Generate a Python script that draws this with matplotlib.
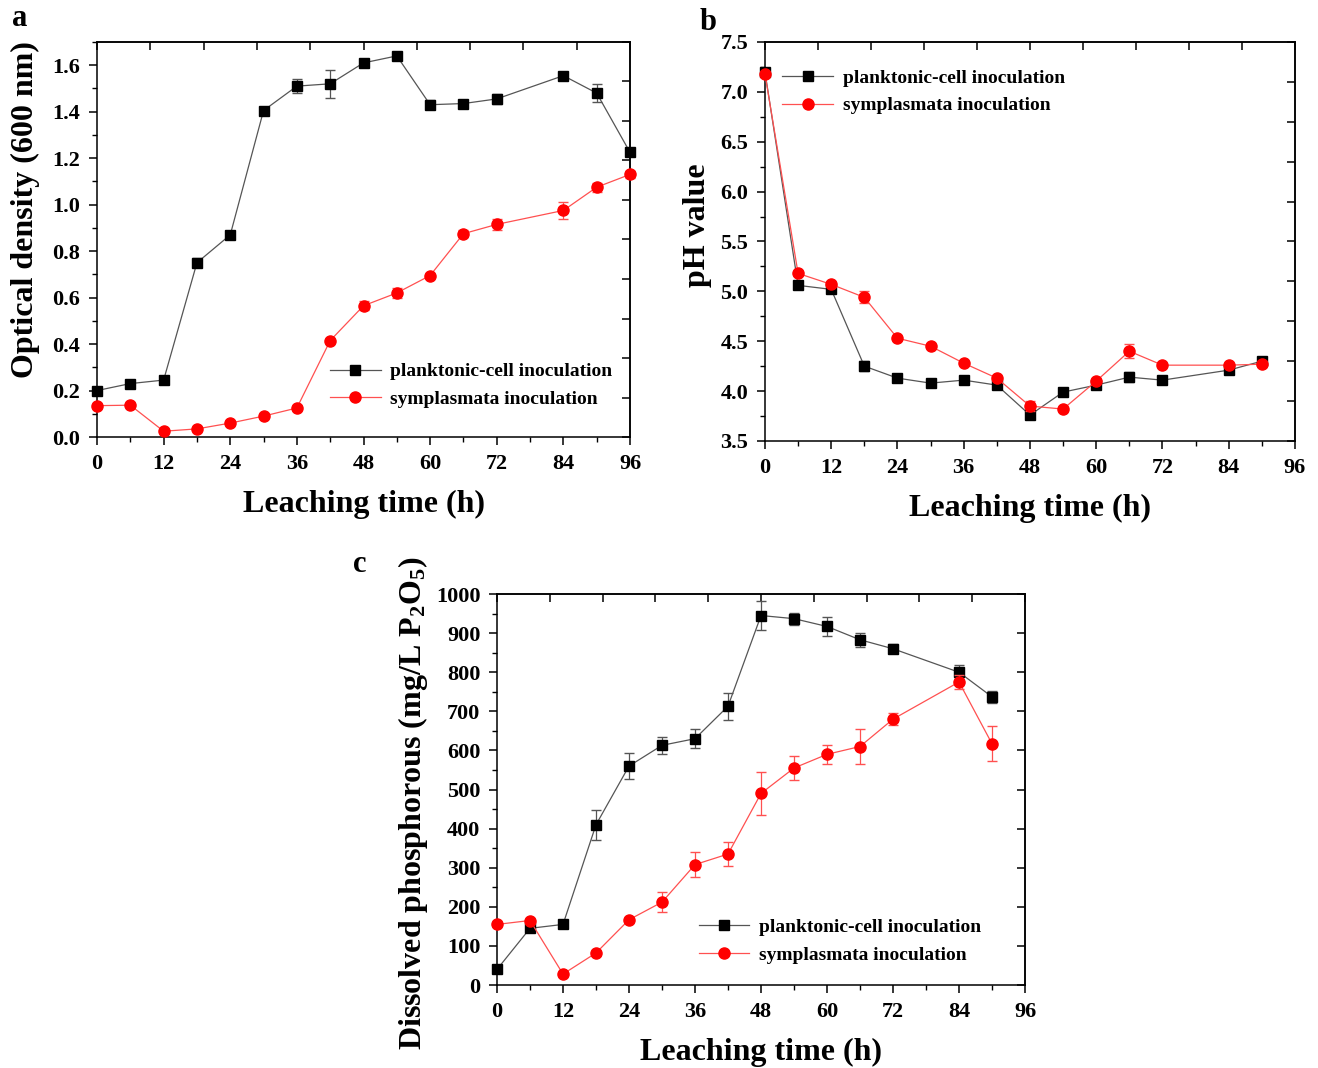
import numpy as np
import matplotlib
matplotlib.use("Agg")
import matplotlib.pyplot as plt
from matplotlib.ticker import MultipleLocator
from matplotlib.lines import Line2D

plt.rcParams['font.family'] = ['Liberation Serif', 'DejaVu Serif']
plt.rcParams['font.weight'] = 'bold'
plt.rcParams['mathtext.fontset'] = 'custom'
plt.rcParams['mathtext.rm'] = 'Liberation Serif:bold'
plt.rcParams['mathtext.bf'] = 'Liberation Serif:bold'
plt.rcParams['mathtext.it'] = 'Liberation Serif:bold'
plt.rcParams['axes.linewidth'] = 1.1

# ---- data ----
# a: optical density
t_a = [0, 6, 12, 18, 24, 30, 36, 42, 48, 54, 60, 66, 72, 84, 90, 96]
od_plank = [0.20, 0.23, 0.245, 0.75, 0.87, 1.405, 1.51, 1.52, 1.61, 1.64,
            1.43, 1.435, 1.455, 1.555, 1.48, 1.225]
od_plank_err = [0.005, 0.005, 0.005, 0.02, 0.005, 0.005, 0.03, 0.06, 0.005, 0.01,
                0.02, 0.005, 0.02, 0.005, 0.04, 0.01]
od_sym = [0.135, 0.137, 0.025, 0.035, 0.06, 0.09, 0.125, 0.415, 0.565, 0.62,
          0.695, 0.875, 0.915, 0.975, 1.075, 1.13]
od_sym_err = [0.005, 0.005, 0.005, 0.005, 0.005, 0.005, 0.005, 0.005, 0.02, 0.02,
              0.005, 0.015, 0.025, 0.035, 0.02, 0.015]

# b: pH
t_b = [0, 6, 12, 18, 24, 30, 36, 42, 48, 54, 60, 66, 72, 84, 90]
ph_plank = [7.20, 5.06, 5.02, 4.25, 4.13, 4.08, 4.11, 4.06, 3.76, 3.99,
            4.06, 4.14, 4.11, 4.21, 4.30]
ph_plank_err = [0.02, 0.02, 0.02, 0.05, 0.01, 0.01, 0.01, 0.01, 0.04, 0.01,
                0.01, 0.05, 0.01, 0.02, 0.02]
ph_sym = [7.18, 5.18, 5.07, 4.94, 4.53, 4.45, 4.28, 4.13, 3.85, 3.82,
          4.10, 4.40, 4.26, 4.26, 4.27]
ph_sym_err = [0.02, 0.02, 0.02, 0.06, 0.01, 0.01, 0.01, 0.01, 0.05, 0.01,
              0.02, 0.07, 0.01, 0.01, 0.03]

# c: dissolved phosphorous
t_c = [0, 6, 12, 18, 24, 30, 36, 42, 48, 54, 60, 66, 72, 84, 90]
p_plank = [40, 145, 155, 410, 560, 613, 630, 713, 945, 937, 917, 883, 860, 800, 737]
p_plank_err = [5, 5, 5, 38, 33, 22, 25, 35, 37, 15, 25, 18, 12, 18, 15]
p_sym = [155, 165, 28, 82, 167, 212, 308, 335, 490, 555, 590, 610, 680, 775, 617]
p_sym_err = [5, 5, 5, 5, 5, 25, 32, 30, 55, 30, 25, 45, 15, 18, 45]

labels = ["planktonic-cell inoculation", "symplasmata inoculation"]

fig = plt.figure(figsize=(13.18, 10.68), dpi=100)

black_style = dict(color='#555555', lw=0.9, marker='s', ms=7.5, mfc='k', mec='k')
red_style = dict(color='#ff5050', lw=0.9, marker='o', ms=8, mfc='red', mec='red')


def panel(rect, t, y1, e1, y2, e2, ylim, ymaj, ymin, ylabel, ylsize, ylpos, letter,
          letter_xy, leg_loc, leg_anchor):
    ax = fig.add_axes(rect)
    for y, e, st, z in [(y1, e1, black_style, 3), (y2, e2, red_style, 4)]:
        _, caps, bars = ax.errorbar(t, y, yerr=e, fmt='none', ecolor=st['color'],
                                    elinewidth=0.9, capsize=3.5, zorder=z)
        for c in list(caps) + list(bars):
            c.set_clip_on(False)
        ax.plot(t, y, zorder=z, clip_on=False, **st)
    ax.set_xlim(0, 96)
    ax.set_ylim(*ylim)
    ax.xaxis.set_major_locator(MultipleLocator(12))
    ax.xaxis.set_minor_locator(MultipleLocator(6))
    ax.yaxis.set_major_locator(MultipleLocator(ymaj))
    ax.yaxis.set_minor_locator(MultipleLocator(ymin))
    ax.tick_params(which='major', direction='out', length=6, width=1.1, labelsize=16, pad=6)
    ax.tick_params(which='minor', direction='out', length=3.5, width=1.0)
    for lb in ax.get_xticklabels() + ax.get_yticklabels():
        lb.set_fontweight('bold')
    ax.set_xlabel("Leaching time (h)", fontsize=23, fontweight='bold', labelpad=12)
    ax.set_ylabel(ylabel, fontsize=ylsize, fontweight='bold', va='center')
    ax.yaxis.set_label_coords(ylpos[0], ylpos[1])

    # top / right axes with ten inward ticks
    top = ax.secondary_xaxis('top')
    top.set_xticks(np.linspace(0, 96, 11))
    top.tick_params(direction='in', length=6, width=1.1, labeltop=False)
    right = ax.secondary_yaxis('right')
    right.set_yticks(np.linspace(ylim[0], ylim[1], 11))
    right.tick_params(direction='in', length=6, width=1.1, labelright=False)

    handles = [Line2D([], [], **black_style), Line2D([], [], **red_style)]
    ax.legend(handles, labels, loc=leg_loc, bbox_to_anchor=leg_anchor, frameon=False,
              prop={'size': 14, 'weight': 'bold'}, handlelength=2.6,
              handletextpad=0.5, labelspacing=0.5)
    fig.text(letter_xy[0], letter_xy[1], letter, fontsize=22, fontweight='bold',
             ha='center', va='center')
    return ax


panel([0.0736, 0.5908, 0.4044, 0.3699], t_a, od_plank, od_plank_err, od_sym, od_sym_err,
      (0, 1.7), 0.2, 0.1, "Optical density (600 nm)", 23, (-0.135, 0.575), "a",
      (20 / 1318, 1 - 18 / 1068), 'lower right', (1.0, 0.03))

panel([0.5804, 0.5871, 0.4021, 0.3736], t_b, ph_plank, ph_plank_err, ph_sym, ph_sym_err,
      (3.5, 7.5), 0.5, 0.25, "pH value", 23, (-0.128, 0.54), "b",
      (708 / 1318, 1 - 22 / 1068), 'upper left', (0.0, 0.975))

panel([0.3771, 0.0777, 0.4006, 0.3661], t_c, p_plank, p_plank_err, p_sym, p_sym_err,
      (0, 1000), 100, 50, r"Dissolved phosphorous (mg/L P$_2$O$_5$)", 23, (-0.16, 0.465), "c",
      (360 / 1318, 1 - 565 / 1068), 'lower right', (0.95, 0.01))

fig.savefig("out.png", dpi=100)
